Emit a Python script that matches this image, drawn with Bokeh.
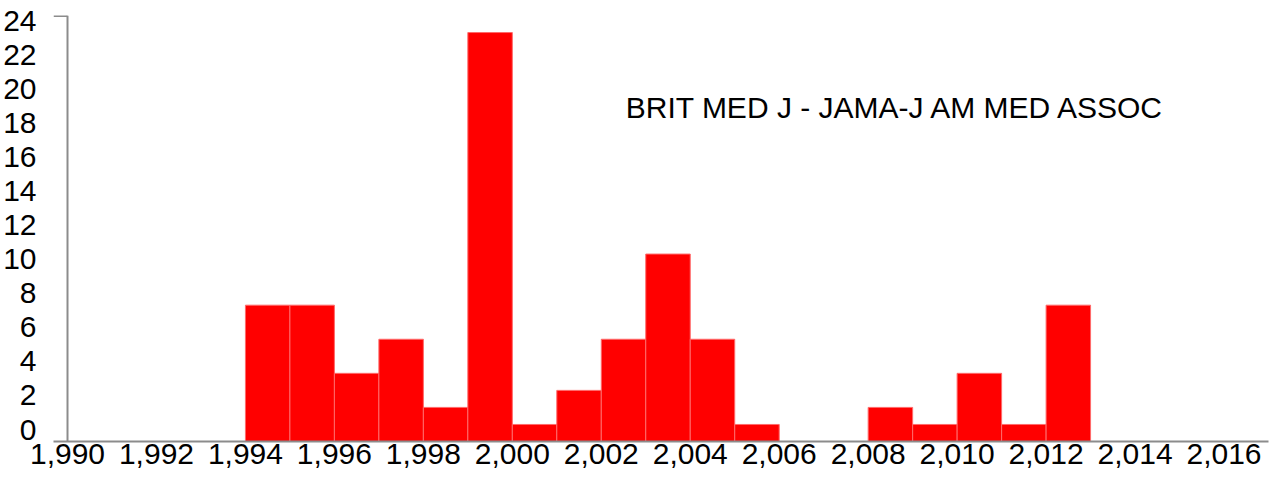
from bokeh.plotting import figure
from bokeh.models import Range1d, LinearAxis, FixedTicker, NumeralTickFormatter, Span, Label
from bokeh.embed import file_html
from bokeh.resources import INLINE

# ---- data ----
years = [1994, 1995, 1996, 1997, 1998, 1999, 2000, 2001, 2002, 2003,
         2004, 2005, 2006, 2007, 2008, 2009, 2010, 2011, 2012]
counts = [8, 8, 4, 6, 2, 24, 1, 3, 6, 11,
          6, 1, 0, 0, 2, 1, 4, 1, 8]
x_ticks = [1990, 1992, 1994, 1996, 1998, 2000, 2002, 2004, 2006, 2008,
           2010, 2012, 2014, 2016]
y_ticks = [0, 2, 4, 6, 8, 10, 12, 14, 16, 18, 20, 22, 24]
title_text = "BRIT MED J - JAMA-J AM MED ASSOC"

FONT = "Liberation Sans"
GRAY = "#8c8c8c"

x_start, x_end = 1989.685, 2017.0
y_start, y_end = 0, 25

p = figure(width=1270, height=478,
           x_range=Range1d(x_start, x_end), y_range=Range1d(y_start, y_end),
           output_backend="svg", toolbar_location=None,
           y_axis_location=None,
           min_border_left=0, min_border_right=2,
           min_border_top=15, min_border_bottom=37)
p.outline_line_color = None
p.xgrid.grid_line_color = None
p.ygrid.grid_line_color = None
p.background_fill_color = "white"

# bars (one per year, bin from year to year+1)
bx = [y for y, c in zip(years, counts) if c > 0]
bc = [c for c in counts if c > 0]
p.quad(left=bx, right=[v + 1 for v in bx], bottom=0, top=bc,
       fill_color="#ff0000", line_color="#ff6a6a", line_width=1)

# x axis
xa = p.xaxis[0]
xa.ticker = FixedTicker(ticks=x_ticks)
xa.formatter = NumeralTickFormatter(format="0,0")
xa.major_label_text_font = FONT
xa.major_label_text_font_size = "30px"
xa.major_label_text_color = "black"
xa.major_label_standoff = -4
xa.axis_line_color = GRAY
xa.axis_line_width = 2
xa.major_tick_line_color = None
xa.minor_tick_line_color = None

# y axis labels (placed slightly above their ticks, as in the source)
p.extra_y_ranges = {"lab": Range1d(y_start - 0.7, y_end - 0.7)}
ya = LinearAxis(y_range_name="lab", ticker=FixedTicker(ticks=y_ticks))
ya.axis_line_color = None
ya.major_tick_line_color = None
ya.minor_tick_line_color = None
ya.major_label_text_font = FONT
ya.major_label_text_font_size = "30px"
ya.major_label_text_color = "black"
ya.major_label_standoff = 11
p.add_layout(ya, "left")

# y axis line at 1990, with its small cap at the top
p.add_layout(Span(location=x_ticks[0], dimension="height",
                  line_color=GRAY, line_width=2))
p.segment(x0=[x_start], x1=[x_ticks[0]], y0=[y_end], y1=[y_end],
          line_color=GRAY, line_width=3)

# annotation
p.add_layout(Label(x=2002.55, y=19.6, text=title_text,
                   text_font=FONT, text_font_size="30px",
                   text_color="black", text_align="left",
                   text_baseline="alphabetic"))

open("out.html", "w").write(file_html(p, INLINE))
